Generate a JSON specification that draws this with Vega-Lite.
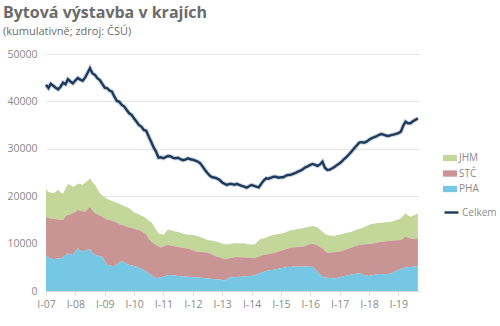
{
"$schema":"https://vega.github.io/schema/vega-lite/v6.json",
"width":373,"height":237,"autosize":"none",
"padding":{"left":46,"top":54,"right":81,"bottom":35},
"background":"white",
"config":{"font":"Open Sans","view":{"stroke":null}},
"title":{"text":"Bytová výstavba v krajích","subtitle":"(kumulativně; zdroj: ČSÚ)","anchor":"start","frame":"group","dx":-43,"offset":12,"fontSize":16,"fontWeight":"bold","color":"#6b6b6b","subtitleFontSize":11,"subtitleColor":"#6b6b6b","subtitlePadding":5},
"data":{"values":[
{"d":"2007-01","PHA":7400,"STČ":8300,"JHM":5800,"Celkem":43500},
{"d":"2007-02","PHA":7000,"STČ":8400,"JHM":5500,"Celkem":42800},
{"d":"2007-03","PHA":6900,"STČ":8400,"JHM":5500,"Celkem":43700},
{"d":"2007-04","PHA":6700,"STČ":8500,"JHM":5400,"Celkem":43300},
{"d":"2007-05","PHA":6800,"STČ":8400,"JHM":5700,"Celkem":42900},
{"d":"2007-06","PHA":6900,"STČ":8200,"JHM":6300,"Celkem":42550},
{"d":"2007-07","PHA":6800,"STČ":8200,"JHM":5800,"Celkem":43100},
{"d":"2007-08","PHA":7100,"STČ":7900,"JHM":5500,"Celkem":43950},
{"d":"2007-09","PHA":7600,"STČ":8100,"JHM":5900,"Celkem":43600},
{"d":"2007-10","PHA":7950,"STČ":8150,"JHM":6500,"Celkem":44670},
{"d":"2007-11","PHA":7700,"STČ":8500,"JHM":6100,"Celkem":44200},
{"d":"2007-12","PHA":7600,"STČ":8800,"JHM":5600,"Celkem":43800},
{"d":"2008-01","PHA":8300,"STČ":8300,"JHM":5600,"Celkem":44400},
{"d":"2008-02","PHA":9000,"STČ":8100,"JHM":5600,"Celkem":44940},
{"d":"2008-03","PHA":8600,"STČ":8400,"JHM":5600,"Celkem":44600},
{"d":"2008-04","PHA":8300,"STČ":8500,"JHM":5600,"Celkem":44370},
{"d":"2008-05","PHA":8500,"STČ":8200,"JHM":6200,"Celkem":45000},
{"d":"2008-06","PHA":8700,"STČ":8600,"JHM":5900,"Celkem":46000},
{"d":"2008-07","PHA":8800,"STČ":9000,"JHM":6000,"Celkem":47000},
{"d":"2008-08","PHA":8000,"STČ":9000,"JHM":6000,"Celkem":45900},
{"d":"2008-09","PHA":7600,"STČ":8800,"JHM":6000,"Celkem":45600},
{"d":"2008-10","PHA":7500,"STČ":8700,"JHM":5300,"Celkem":44900},
{"d":"2008-11","PHA":7300,"STČ":8600,"JHM":4700,"Celkem":44500},
{"d":"2008-12","PHA":7200,"STČ":8500,"JHM":4500,"Celkem":43700},
{"d":"2009-01","PHA":6200,"STČ":9100,"JHM":4500,"Celkem":42900},
{"d":"2009-02","PHA":5500,"STČ":9500,"JHM":4400,"Celkem":42770},
{"d":"2009-03","PHA":5400,"STČ":9600,"JHM":4200,"Celkem":42300},
{"d":"2009-04","PHA":5300,"STČ":9500,"JHM":4200,"Celkem":42050},
{"d":"2009-05","PHA":5300,"STČ":9300,"JHM":4200,"Celkem":41000},
{"d":"2009-06","PHA":5600,"STČ":8800,"JHM":4200,"Celkem":40100},
{"d":"2009-07","PHA":6000,"STČ":8100,"JHM":4300,"Celkem":39900},
{"d":"2009-08","PHA":6400,"STČ":7600,"JHM":4150,"Celkem":39250},
{"d":"2009-09","PHA":6000,"STČ":7800,"JHM":4100,"Celkem":38900},
{"d":"2009-10","PHA":5700,"STČ":7900,"JHM":4100,"Celkem":38200},
{"d":"2009-11","PHA":5500,"STČ":7900,"JHM":4050,"Celkem":37500},
{"d":"2009-12","PHA":5400,"STČ":7900,"JHM":3800,"Celkem":37150},
{"d":"2010-01","PHA":5300,"STČ":7900,"JHM":3300,"Celkem":36400},
{"d":"2010-02","PHA":5100,"STČ":7900,"JHM":3400,"Celkem":35700},
{"d":"2010-03","PHA":4900,"STČ":8000,"JHM":3300,"Celkem":35030},
{"d":"2010-04","PHA":4700,"STČ":7900,"JHM":3300,"Celkem":34700},
{"d":"2010-05","PHA":4400,"STČ":7900,"JHM":3400,"Celkem":33970},
{"d":"2010-06","PHA":4100,"STČ":7800,"JHM":3400,"Celkem":33800},
{"d":"2010-07","PHA":3700,"STČ":7400,"JHM":3700,"Celkem":32600},
{"d":"2010-08","PHA":3400,"STČ":7100,"JHM":4100,"Celkem":31500},
{"d":"2010-09","PHA":3000,"STČ":7000,"JHM":3800,"Celkem":30300},
{"d":"2010-10","PHA":2700,"STČ":7000,"JHM":3200,"Celkem":29400},
{"d":"2010-11","PHA":2800,"STČ":6600,"JHM":2800,"Celkem":28130},
{"d":"2010-12","PHA":2900,"STČ":6300,"JHM":2800,"Celkem":28200},
{"d":"2011-01","PHA":3000,"STČ":6400,"JHM":2400,"Celkem":28000},
{"d":"2011-02","PHA":3200,"STČ":6400,"JHM":2900,"Celkem":28300},
{"d":"2011-03","PHA":3400,"STČ":6300,"JHM":3300,"Celkem":28490},
{"d":"2011-04","PHA":3400,"STČ":6200,"JHM":3200,"Celkem":28400},
{"d":"2011-05","PHA":3300,"STČ":6200,"JHM":3200,"Celkem":28100},
{"d":"2011-06","PHA":3200,"STČ":6200,"JHM":3100,"Celkem":28000},
{"d":"2011-07","PHA":3170,"STČ":6180,"JHM":3150,"Celkem":28100},
{"d":"2011-08","PHA":3100,"STČ":6100,"JHM":3100,"Celkem":27800},
{"d":"2011-09","PHA":3000,"STČ":6100,"JHM":3000,"Celkem":27600},
{"d":"2011-10","PHA":3050,"STČ":5950,"JHM":3000,"Celkem":27700},
{"d":"2011-11","PHA":3020,"STČ":5980,"JHM":2800,"Celkem":28000},
{"d":"2011-12","PHA":2950,"STČ":5850,"JHM":3100,"Celkem":27800},
{"d":"2012-01","PHA":2900,"STČ":5700,"JHM":3200,"Celkem":27700},
{"d":"2012-02","PHA":2900,"STČ":5500,"JHM":3300,"Celkem":27500},
{"d":"2012-03","PHA":2890,"STČ":5410,"JHM":3300,"Celkem":27300},
{"d":"2012-04","PHA":2800,"STČ":5450,"JHM":3150,"Celkem":26950},
{"d":"2012-05","PHA":2750,"STČ":5450,"JHM":3000,"Celkem":26300},
{"d":"2012-06","PHA":2700,"STČ":5450,"JHM":2850,"Celkem":25530},
{"d":"2012-07","PHA":2680,"STČ":5420,"JHM":2660,"Celkem":24900},
{"d":"2012-08","PHA":2600,"STČ":5300,"JHM":2800,"Celkem":24300},
{"d":"2012-09","PHA":2550,"STČ":5150,"JHM":2900,"Celkem":24000},
{"d":"2012-10","PHA":2500,"STČ":4900,"JHM":3100,"Celkem":23900},
{"d":"2012-11","PHA":2470,"STČ":4770,"JHM":3160,"Celkem":23700},
{"d":"2012-12","PHA":2400,"STČ":4700,"JHM":3100,"Celkem":23400},
{"d":"2013-01","PHA":2300,"STČ":4600,"JHM":3100,"Celkem":22900},
{"d":"2013-02","PHA":2180,"STČ":4520,"JHM":3100,"Celkem":22600},
{"d":"2013-03","PHA":2500,"STČ":4300,"JHM":2900,"Celkem":22370},
{"d":"2013-04","PHA":2800,"STČ":4100,"JHM":3000,"Celkem":22600},
{"d":"2013-05","PHA":2890,"STČ":4110,"JHM":3000,"Celkem":22580},
{"d":"2013-06","PHA":2900,"STČ":4200,"JHM":2960,"Celkem":22400},
{"d":"2013-07","PHA":2950,"STČ":4200,"JHM":2950,"Celkem":22600},
{"d":"2013-08","PHA":3020,"STČ":4080,"JHM":2900,"Celkem":22370},
{"d":"2013-09","PHA":3000,"STČ":4100,"JHM":2960,"Celkem":22200},
{"d":"2013-10","PHA":3050,"STČ":4050,"JHM":2960,"Celkem":22000},
{"d":"2013-11","PHA":3100,"STČ":3950,"JHM":2850,"Celkem":21800},
{"d":"2013-12","PHA":3150,"STČ":3850,"JHM":2800,"Celkem":22100},
{"d":"2014-01","PHA":3170,"STČ":3780,"JHM":2750,"Celkem":22370},
{"d":"2014-02","PHA":3300,"STČ":3600,"JHM":2800,"Celkem":22200},
{"d":"2014-03","PHA":3500,"STČ":3600,"JHM":3100,"Celkem":22000},
{"d":"2014-04","PHA":3700,"STČ":3600,"JHM":3400,"Celkem":21880},
{"d":"2014-05","PHA":3870,"STČ":3630,"JHM":3500,"Celkem":22600},
{"d":"2014-06","PHA":4000,"STČ":3600,"JHM":3500,"Celkem":23300},
{"d":"2014-07","PHA":4200,"STČ":3500,"JHM":3600,"Celkem":23780},
{"d":"2014-08","PHA":4300,"STČ":3500,"JHM":3700,"Celkem":23700},
{"d":"2014-09","PHA":4430,"STČ":3470,"JHM":3800,"Celkem":23900},
{"d":"2014-10","PHA":4500,"STČ":3580,"JHM":3720,"Celkem":24120},
{"d":"2014-11","PHA":4600,"STČ":3600,"JHM":3700,"Celkem":24100},
{"d":"2014-12","PHA":4700,"STČ":3650,"JHM":3650,"Celkem":23900},
{"d":"2015-01","PHA":4780,"STČ":3720,"JHM":3600,"Celkem":24000},
{"d":"2015-02","PHA":4900,"STČ":3750,"JHM":3520,"Celkem":23990},
{"d":"2015-03","PHA":5000,"STČ":3800,"JHM":3600,"Celkem":24300},
{"d":"2015-04","PHA":5100,"STČ":3850,"JHM":3650,"Celkem":24480},
{"d":"2015-05","PHA":5000,"STČ":4100,"JHM":3700,"Celkem":24500},
{"d":"2015-06","PHA":5200,"STČ":4020,"JHM":3650,"Celkem":24700},
{"d":"2015-07","PHA":5100,"STČ":4150,"JHM":3750,"Celkem":24900},
{"d":"2015-08","PHA":5150,"STČ":4150,"JHM":3800,"Celkem":25170},
{"d":"2015-09","PHA":5100,"STČ":4250,"JHM":3850,"Celkem":25400},
{"d":"2015-10","PHA":5130,"STČ":4220,"JHM":3870,"Celkem":25700},
{"d":"2015-11","PHA":5200,"STČ":4300,"JHM":3900,"Celkem":26100},
{"d":"2015-12","PHA":5100,"STČ":4600,"JHM":3800,"Celkem":26300},
{"d":"2016-01","PHA":5130,"STČ":4720,"JHM":3750,"Celkem":26600},
{"d":"2016-02","PHA":5130,"STČ":4790,"JHM":3800,"Celkem":26800},
{"d":"2016-03","PHA":4600,"STČ":5200,"JHM":3800,"Celkem":26600},
{"d":"2016-04","PHA":4080,"STČ":5520,"JHM":3840,"Celkem":26380},
{"d":"2016-05","PHA":3500,"STČ":5800,"JHM":3700,"Celkem":26700},
{"d":"2016-06","PHA":3000,"STČ":6010,"JHM":3500,"Celkem":27280},
{"d":"2016-07","PHA":2890,"STČ":5610,"JHM":3600,"Celkem":26000},
{"d":"2016-08","PHA":2800,"STČ":5280,"JHM":3740,"Celkem":25530},
{"d":"2016-09","PHA":2750,"STČ":5350,"JHM":3600,"Celkem":25600},
{"d":"2016-10","PHA":2700,"STČ":5450,"JHM":3500,"Celkem":25880},
{"d":"2016-11","PHA":2680,"STČ":5520,"JHM":3400,"Celkem":26200},
{"d":"2016-12","PHA":2800,"STČ":5450,"JHM":3550,"Celkem":26600},
{"d":"2017-01","PHA":2900,"STČ":5390,"JHM":3610,"Celkem":26950},
{"d":"2017-02","PHA":3000,"STČ":5450,"JHM":3580,"Celkem":27400},
{"d":"2017-03","PHA":3170,"STČ":5480,"JHM":3550,"Celkem":27900},
{"d":"2017-04","PHA":3300,"STČ":5550,"JHM":3450,"Celkem":28340},
{"d":"2017-05","PHA":3400,"STČ":5610,"JHM":3390,"Celkem":28900},
{"d":"2017-06","PHA":3500,"STČ":5700,"JHM":3310,"Celkem":29500},
{"d":"2017-07","PHA":3600,"STČ":5800,"JHM":3300,"Celkem":30110},
{"d":"2017-08","PHA":3700,"STČ":5850,"JHM":3450,"Celkem":30700},
{"d":"2017-09","PHA":3730,"STČ":5970,"JHM":3400,"Celkem":31290},
{"d":"2017-10","PHA":3600,"STČ":6150,"JHM":3470,"Celkem":31400},
{"d":"2017-11","PHA":3400,"STČ":6400,"JHM":3700,"Celkem":31300},
{"d":"2017-12","PHA":3300,"STČ":6550,"JHM":3850,"Celkem":31500},
{"d":"2018-01","PHA":3170,"STČ":6730,"JHM":4000,"Celkem":31900},
{"d":"2018-02","PHA":3300,"STČ":6620,"JHM":4220,"Celkem":32200},
{"d":"2018-03","PHA":3400,"STČ":6650,"JHM":4150,"Celkem":32430},
{"d":"2018-04","PHA":3500,"STČ":6700,"JHM":4100,"Celkem":32600},
{"d":"2018-05","PHA":3590,"STČ":6710,"JHM":4050,"Celkem":32900},
{"d":"2018-06","PHA":3590,"STČ":6810,"JHM":4010,"Celkem":33130},
{"d":"2018-07","PHA":3550,"STČ":6900,"JHM":4000,"Celkem":33000},
{"d":"2018-08","PHA":3600,"STČ":6900,"JHM":4000,"Celkem":32800},
{"d":"2018-09","PHA":3590,"STČ":6960,"JHM":4000,"Celkem":32700},
{"d":"2018-10","PHA":3700,"STČ":6900,"JHM":4020,"Celkem":32900},
{"d":"2018-11","PHA":3900,"STČ":6750,"JHM":4050,"Celkem":33000},
{"d":"2018-12","PHA":4200,"STČ":6500,"JHM":4200,"Celkem":33130},
{"d":"2019-01","PHA":4430,"STČ":6290,"JHM":4380,"Celkem":33300},
{"d":"2019-02","PHA":4600,"STČ":6160,"JHM":4570,"Celkem":33610},
{"d":"2019-03","PHA":4800,"STČ":6300,"JHM":4800,"Celkem":34800},
{"d":"2019-04","PHA":5000,"STČ":6460,"JHM":4930,"Celkem":35720},
{"d":"2019-05","PHA":5000,"STČ":6300,"JHM":4700,"Celkem":35400},
{"d":"2019-06","PHA":5050,"STČ":6050,"JHM":4580,"Celkem":35380},
{"d":"2019-07","PHA":5100,"STČ":5900,"JHM":4900,"Celkem":35800},
{"d":"2019-08","PHA":5200,"STČ":5850,"JHM":5050,"Celkem":36100},
{"d":"2019-09","PHA":5280,"STČ":5840,"JHM":5270,"Celkem":36440}
]},
"encoding":{
 "x":{"field":"d","type":"temporal","scale":{"domain":["2007-01-01","2019-09-15"]},
  "axis":{"title":null,"format":"I-%y","tickCount":{"interval":"year","step":1},"grid":false,"domainColor":"#d9d9d9","tickColor":"#d9d9d9","tickSize":4,"labelColor":"#8a8a8a","labelFontSize":10.5,"labelPadding":4,"labelFlush":false}}
},
"layer":[
 {"transform":[{"fold":["JHM","STČ","PHA"],"as":["k","v"]},{"calculate":"indexof(['PHA','STČ','JHM'], datum.k)","as":"o"}],
  "mark":{"type":"area","opacity":1},
  "encoding":{
   "y":{"field":"v","type":"quantitative","stack":"zero","scale":{"domain":[0,50000]},
     "axis":{"title":null,"values":[0,5000,10000,15000,20000,25000,30000,35000,40000,45000,50000],"format":"d","domain":false,"ticks":false,"gridColor":"#e6e6e6","labelColor":"#8a8a8a","labelFontSize":10.5,"labelPadding":9}},
   "order":{"field":"o","type":"quantitative","sort":"ascending"},
   "color":{"field":"k","type":"nominal","sort":["JHM","STČ","PHA"],
     "scale":{"domain":["JHM","STČ","PHA"],"range":["#C4D79B","#C99494","#76C7E3"]},
     "legend":{"title":null,"orient":"none","legendX":397,"legendY":97,"symbolType":"M-1,-0.45H1V0.45H-1Z","symbolSize":196,"symbolStrokeWidth":0,"labelFontSize":10,"labelColor":"#8a8a8a","rowPadding":3.5,"labelOffset":2}}
  }},
 {"mark":{"type":"line","strokeWidth":4.5,"color":"#9aa4b0","opacity":0.45},
  "encoding":{"y":{"field":"Celkem","type":"quantitative"}}},
 {"mark":{"type":"line","strokeWidth":2.4},
  "encoding":{"y":{"field":"Celkem","type":"quantitative"},
   "stroke":{"datum":"Celkem","type":"nominal","scale":{"domain":["Celkem"],"range":["#1B3A5E"]},
     "legend":{"title":null,"orient":"none","legendX":397,"legendY":150,"symbolType":"stroke","symbolSize":196,"symbolStrokeWidth":2.4,"labelFontSize":10,"labelColor":"#8a8a8a","labelOffset":2}}}}
]
}
